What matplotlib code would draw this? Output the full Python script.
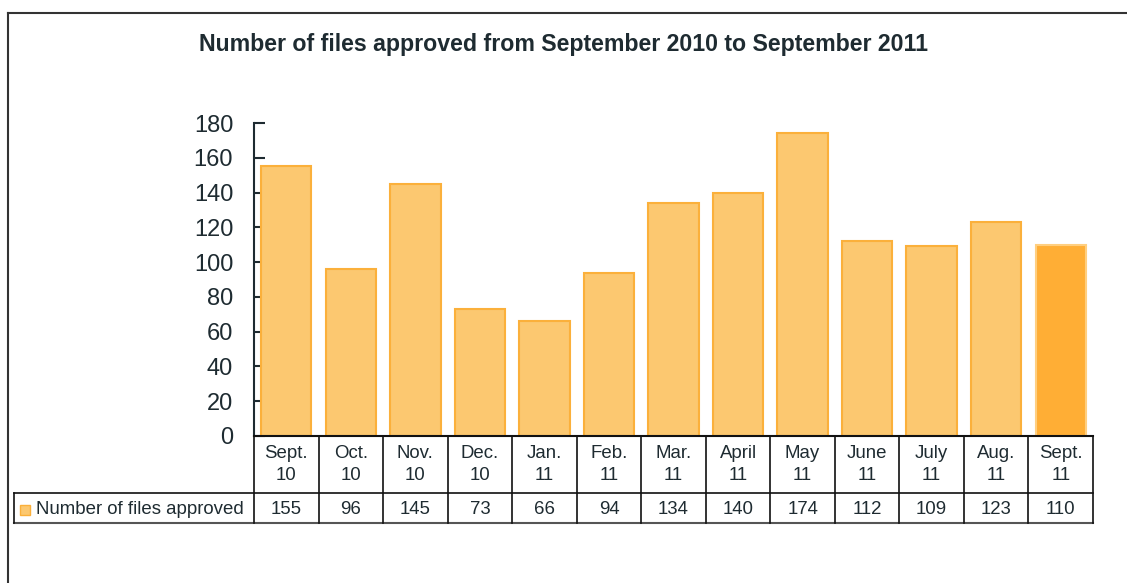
import matplotlib
matplotlib.use("Agg")
import matplotlib.pyplot as plt
from matplotlib.lines import Line2D
from matplotlib.patches import Rectangle
from matplotlib.transforms import blended_transform_factory

categories = ["Sept.\n10", "Oct.\n10", "Nov.\n10", "Dec.\n10", "Jan.\n11", "Feb.\n11",
              "Mar.\n11", "April\n11", "May\n11", "June\n11", "July\n11", "Aug.\n11", "Sept.\n11"]
values = [155, 96, 145, 73, 66, 94, 134, 140, 174, 112, 109, 123, 110]
series_name = "Number of files approved"
title = "Number of files approved from September 2010 to September 2011"
yticks = [0, 20, 40, 60, 80, 100, 120, 140, 160, 180]

W, H = 1127, 583
plt.rcParams['font.family'] = ['Liberation Sans', 'DejaVu Sans']
TXT = "#1e2b31"
FILL = "#fcc870"
EDGE = "#fbb03b"
LAST_FILL = "#ffae35"
LAST_EDGE = "#ffcf80"

fig = plt.figure(figsize=(W / 100, H / 100), dpi=100)

def fx(x):
    return x / W

def fy(y):
    return 1 - y / H

ax_left, ax_right, ax_top, ax_bottom = 254, 1093, 123, 436
ax = fig.add_axes([fx(ax_left), fy(ax_bottom), fx(ax_right - ax_left), (ax_bottom - ax_top) / H])
n = len(values)
xs = list(range(n))
colors = [FILL] * (n - 1) + [LAST_FILL]
edges = [EDGE] * (n - 1) + [LAST_EDGE]
ax.bar(xs, values, width=0.78, color=colors, edgecolor=edges, linewidth=1.5, zorder=2)
ax.set_xlim(-0.5, n - 0.5)
ax.set_ylim(0, 180)
ax.set_yticks(yticks)
ax.set_yticklabels([str(t) for t in yticks], fontsize=17, color=TXT)
ax.tick_params(axis='y', direction='in', length=8, width=1.5, color=TXT, pad=15)
ax.set_xticks([])
for s in ['top', 'right', 'bottom']:
    ax.spines[s].set_visible(False)
ax.spines['left'].set_color(TXT)
ax.spines['left'].set_linewidth(1.5)

# outer frame (left and top)
fig.add_artist(Line2D([fx(8), fx(8)], [fy(13), 0], transform=fig.transFigure, color="#333333", lw=1.5))
fig.add_artist(Line2D([fx(8), 1], [fy(13), fy(13)], transform=fig.transFigure, color="#333333", lw=1.5))

# title
fig.text(0.5, fy(45), title, ha='center', va='center', fontsize=16.7, fontweight='bold', color=TXT)

# data table
tr = blended_transform_factory(ax.transData, fig.transFigure)
row1_top, row1_bot, row2_bot = 436, 493, 523
lc = "#111111"
fs_tab = 13.4
fig.add_artist(Line2D([fx(ax_left), fx(ax_right)], [fy(row1_top)] * 2, transform=fig.transFigure, color=lc, lw=1.5))
fig.add_artist(Line2D([fx(14), fx(ax_right)], [fy(row1_bot)] * 2, transform=fig.transFigure, color=lc, lw=1.2))
fig.add_artist(Line2D([fx(14), fx(ax_right)], [fy(row2_bot)] * 2, transform=fig.transFigure, color="#555555", lw=1.5))
fig.add_artist(Line2D([fx(14), fx(14)], [fy(row1_bot), fy(row2_bot)], transform=fig.transFigure, color=lc, lw=1.2))
for i in range(n + 1):
    fig.add_artist(Line2D([i - 0.5, i - 0.5], [fy(row1_top), fy(row2_bot)], transform=tr, color=lc, lw=1.2))
for i, (c, v) in enumerate(zip(categories, values)):
    fig.text(i, fy((row1_top + row1_bot) / 2), c, transform=tr, ha='center', va='center',
             fontsize=fs_tab, color=TXT, linespacing=1.35)
    fig.text(i, fy((row1_bot + row2_bot) / 2 + 2), str(v), transform=tr, ha='center', va='center',
             fontsize=fs_tab, color=TXT)

# legend key in table
fig.add_artist(Rectangle((fx(20), fy(515)), fx(10), 10 / H, transform=fig.transFigure,
                         facecolor=FILL, edgecolor=EDGE, lw=1))
fig.text(fx(36), fy(510), series_name, ha='left', va='center', fontsize=fs_tab, color=TXT)

fig.savefig("out.png", dpi=100)
